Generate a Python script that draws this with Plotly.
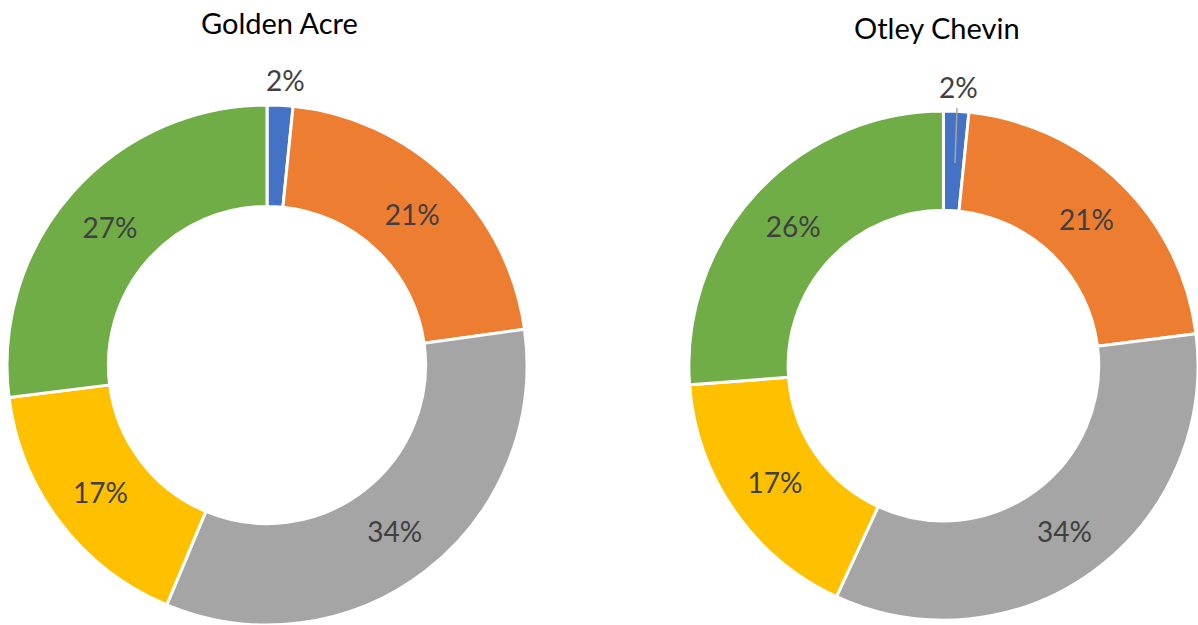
import plotly.graph_objects as go

categories = ["A", "B", "C", "D", "E"]
golden_acre = [1.6, 21.2, 33.5, 16.7, 27.0]
otley_chevin = [1.6, 21.4, 33.9, 16.9, 26.2]
titles = ["Golden Acre", "Otley Chevin"]
colors = ["#4472C4", "#ED7D31", "#A5A5A5", "#FFC000", "#70AD47"]

W, H = 1198, 625
FONT = "Lato"
TXT = "#404040"
fig = go.Figure()

def add_pie(vals, dom_x, dom_y):
    fig.add_trace(go.Pie(
        labels=categories, values=vals, sort=False, direction="clockwise",
        rotation=0, hole=0.61,
        marker=dict(colors=colors, line=dict(color="white", width=3)),
        textinfo="percent", texttemplate="%{percent:.0%}",
        textposition=["none", "inside", "inside", "inside", "inside"],
        insidetextorientation="horizontal",
        textfont=dict(family=FONT, size=28, color=TXT),
        insidetextfont=dict(family=FONT, size=28, color=TXT),
        domain=dict(x=dom_x, y=dom_y), showlegend=False, hoverinfo="skip",
    ))

add_pie(golden_acre, [5 / W, 529 / W], [0.0, 0.832])
add_pie(otley_chevin, [0.575, 1.0], [0.006, 0.824])

def pct(vals, i):
    return f"{round(vals[i] / sum(vals) * 100)}%"

# small first-slice labels placed outside the ring
fig.add_annotation(text=pct(golden_acre, 0), x=285 / W, y=1 - 80 / H, xref="paper", yref="paper",
                   xanchor="center", yanchor="middle", showarrow=False,
                   font=dict(family=FONT, size=28, color=TXT))
fig.add_annotation(text=pct(otley_chevin, 0), x=958 / W, y=1 - 87 / H, xref="paper", yref="paper",
                   xanchor="center", yanchor="middle", showarrow=False,
                   font=dict(family=FONT, size=28, color=TXT))
fig.add_shape(type="line", xref="paper", yref="paper",
              x0=957 / W, y0=1 - 108 / H, x1=955 / W, y1=1 - 163 / H,
              line=dict(color="#A6A6A6", width=1.5))

fig.add_annotation(text=titles[0], x=279 / W, y=1 - 22 / H, xref="paper", yref="paper",
                   xanchor="center", yanchor="middle",
                   showarrow=False, font=dict(family=FONT, size=29, color="#000000"))
fig.add_annotation(text=titles[1], x=937 / W, y=1 - 27 / H, xref="paper", yref="paper",
                   xanchor="center", yanchor="middle",
                   showarrow=False, font=dict(family=FONT, size=29, color="#000000"))

fig.update_layout(width=W, height=H, margin=dict(l=0, r=0, t=0, b=0),
                  paper_bgcolor="white", plot_bgcolor="white")
fig.write_html("out.html", config={"displayModeBar": False},
               post_script="document.body.style.margin='0';")
